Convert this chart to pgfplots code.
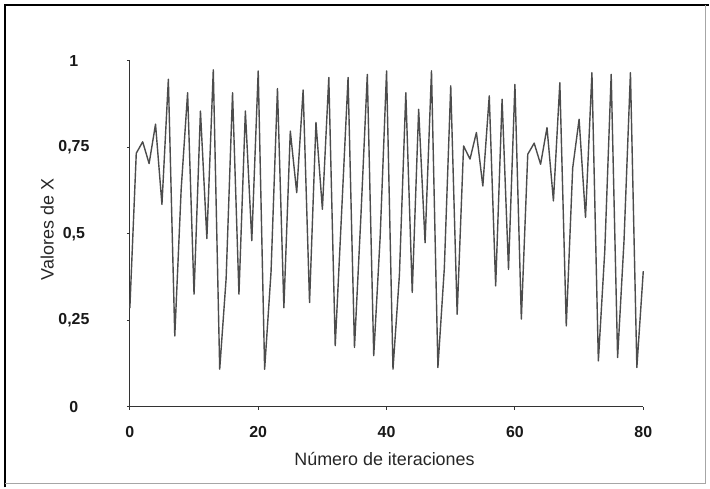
\documentclass[border=0pt]{standalone}
\usepackage{pgfplots}
\pgfplotsset{compat=1.18}
\usepackage{fontspec}
\setmainfont{Liberation Sans}
\begin{document}
\begin{tikzpicture}[x=1bp,y=1bp]
\path[fill=white] (0,0) rectangle (710,488);
\draw[black, line width=1.6bp] (5,0) -- (5,483) -- (710,483);
\draw[black!35, line width=0.8bp] (706,483) -- (706,4) -- (5,4);
\begin{axis}[
  at={(130bp,81bp)}, anchor=south west,
  scale only axis, width=514bp, height=346bp,
  xmin=0, xmax=80, ymin=0, ymax=1,
  axis lines=left,
  axis line style={-, black!80, line width=1.1bp},
  xtick={0,20,40,60,80},
  ytick={0,0.25,0.5,0.75,1},
  tick align=outside,
  major tick length=3bp,
  tick style={black!80, line width=0.9bp},
  /pgf/number format/use comma,
  /pgf/number format/assume math mode=true,
  ticklabel style={font=\fontsize{16}{19}\selectfont\bfseries, text=black!90},
  yticklabel style={anchor=center, xshift=-53bp},
  xticklabel style={anchor=center, yshift=-23bp},
  xlabel={Número de iteraciones},
  ylabel={Valores de X},
  label style={font=\fontsize{18}{21}\selectfont, text=black!85},
  xlabel style={at={(axis description cs:0.496,-0.153)}, anchor=center},
  ylabel style={at={(axis description cs:-0.161,0.512)}, anchor=center},
  clip=false,
]
\addplot[black!70, line width=1.4bp, line join=round, mark=none] coordinates {
(0,0.285)(1,0.733)(2,0.766)(3,0.703)(4,0.817)(5,0.585)(6,0.947)(7,0.204)(8,0.63)(9,0.908)
(10,0.325)(11,0.855)(12,0.486)(13,0.974)(14,0.108)(15,0.37)(16,0.908)(17,0.325)(18,0.855)(19,0.48)
(20,0.971)(21,0.108)(22,0.39)(23,0.920)(24,0.286)(25,0.797)(26,0.619)(27,0.916)(28,0.301)(29,0.822)
(30,0.571)(31,0.952)(32,0.176)(33,0.563)(34,0.952)(35,0.171)(36,0.55)(37,0.961)(38,0.147)(39,0.49)
(40,0.971)(41,0.108)(42,0.38)(43,0.908)(44,0.33)(45,0.860)(46,0.474)(47,0.971)(48,0.113)(49,0.40)
(50,0.928)(51,0.267)(52,0.754)(53,0.716)(54,0.793)(55,0.638)(56,0.899)(57,0.349)(58,0.889)(59,0.397)
(60,0.932)(61,0.253)(62,0.730)(63,0.762)(64,0.701)(65,0.807)(66,0.595)(67,0.937)(68,0.233)(69,0.69)
(70,0.831)(71,0.547)(72,0.966)(73,0.132)(74,0.45)(75,0.961)(76,0.142)(77,0.48)(78,0.966)(79,0.113)
(80,0.392)
};
\end{axis}
\end{tikzpicture}
\end{document}
